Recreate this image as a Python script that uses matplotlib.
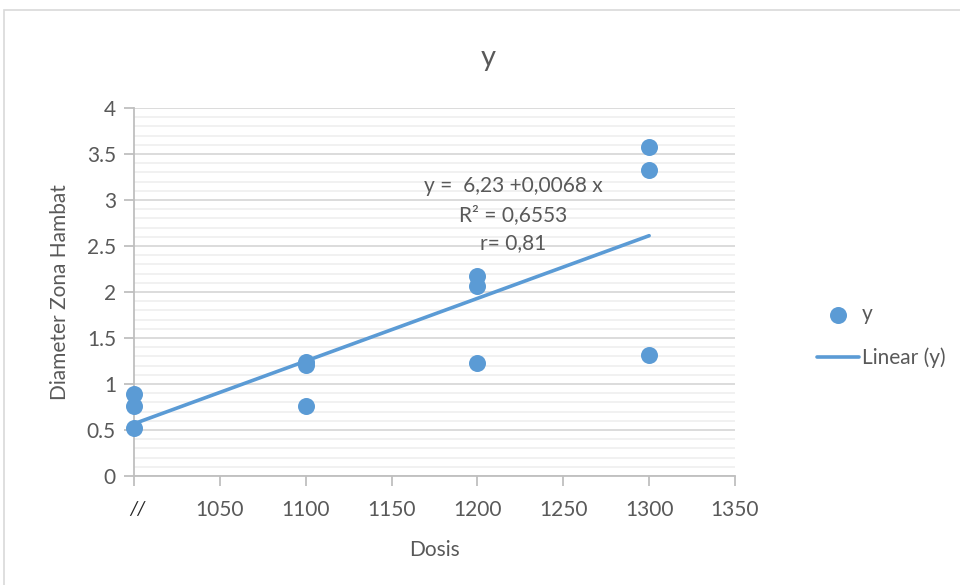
import numpy as np
import matplotlib
matplotlib.use('Agg')
import matplotlib.pyplot as plt
from matplotlib.patches import Rectangle
from matplotlib.ticker import MultipleLocator

plt.rcParams['font.family'] = ['Lato', 'DejaVu Sans']

# Data (3 replicates per dose)
dosis = [1000, 1000, 1000, 1100, 1100, 1100, 1200, 1200, 1200, 1300, 1300, 1300]
zona = [0.89, 0.76, 0.52, 1.24, 1.21, 0.76, 2.17, 2.07, 1.23, 3.58, 3.33, 1.32]
x_ticks = [1000, 1050, 1100, 1150, 1200, 1250, 1300, 1350]
x_labels = ['', '1050', '1100', '1150', '1200', '1250', '1300', '1350']
eq_lines = ['y =  6,23 +0,0068 x', 'R² = 0,6553', 'r= 0,81']

BLUE = '#5B9BD5'
TXT = '#595959'

fig = plt.figure(figsize=(9.6, 5.85), dpi=100)
ax = fig.add_axes([134/960, 1-476/585, (735-134)/960, (476-108)/585])

# outer chart border
fig.patches.append(Rectangle((4/960, -0.01), 1, 1-10/585+0.01, transform=fig.transFigure,
                             fill=False, edgecolor='#D9D9D9', lw=1.2))

# linear trend line
slope, icpt = np.polyfit(dosis, zona, 1)
xl = np.array([min(dosis), max(dosis)])
ax.plot(xl, icpt + slope*xl, color=BLUE, lw=2.6, solid_capstyle='round', zorder=3, label='Linear (y)')
ax.scatter(dosis, zona, s=150, color=BLUE, zorder=4, label='y', clip_on=False, linewidths=0)

ax.set_xlim(1000, 1350)
ax.set_ylim(0, 4)
ax.set_xticks(x_ticks)
ax.set_xticklabels(x_labels)
ax.yaxis.set_major_locator(MultipleLocator(0.5))
ax.yaxis.set_minor_locator(MultipleLocator(0.1))
ax.yaxis.set_major_formatter(matplotlib.ticker.FuncFormatter(lambda v, p: ('%g' % v)))
ax.grid(which='major', axis='y', color='#D9D9D9', lw=1.3)
ax.grid(which='minor', axis='y', color='#F0F0F0', lw=1.3)
ax.set_axisbelow(True)

for s in ['top', 'right']:
    ax.spines[s].set_visible(False)
for s in ['left', 'bottom']:
    ax.spines[s].set_color('#BFBFBF')
    ax.spines[s].set_linewidth(1.3)
ax.tick_params(axis='both', which='major', colors='#BFBFBF', labelcolor=TXT, labelsize=15, length=7, width=1.3)
ax.tick_params(axis='y', which='minor', length=0)
ax.tick_params(axis='x', pad=10)
ax.tick_params(axis='y', pad=6)

# axis break marker at the origin
ax.text(1002, -0.36, '//', ha='center', va='center', fontsize=14, style='italic', color='#262626')

ax.set_title('y', fontsize=21, color=TXT, pad=30, x=0.59)
ax.set_xlabel('Dosis', fontsize=15, color=TXT, labelpad=15)
ax.set_ylabel('Diameter Zona Hambat', fontsize=15, color=TXT, labelpad=12)

for i, t in enumerate(eq_lines):
    ax.text(1221, 3.15 - i*0.31, t, ha='center', va='center', fontsize=15, color=TXT)

leg = ax.legend(handles=ax.collections[:1] + ax.lines[:1], labels=['y', 'Linear (y)'],
                loc='center left', bbox_to_anchor=(1.105, 0.38), frameon=False, fontsize=15,
                handlelength=2.0, labelspacing=1.1, handletextpad=0.15)
for t in leg.get_texts():
    t.set_color(TXT)

fig.savefig('out.png', dpi=100, facecolor='white')
